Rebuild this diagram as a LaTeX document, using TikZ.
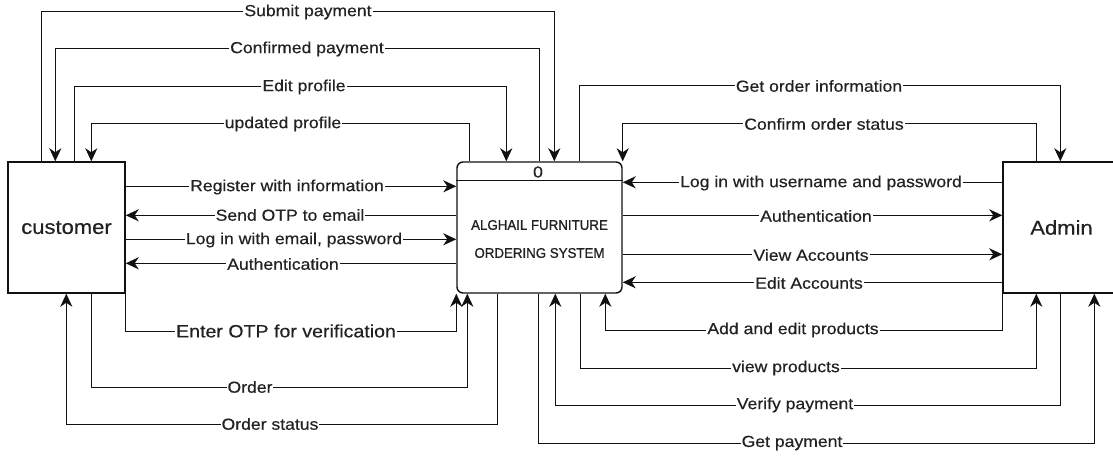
\documentclass[tikz,border=0pt]{standalone}
\usepackage{fontspec}
\setmainfont{Liberation Sans}[FakeStretch=1.1,FakeBold=0.4]
\newfontfamily\sysfont{Liberation Sans}[FakeStretch=0.95,FakeBold=1]
\usetikzlibrary{arrows.meta}
\definecolor{ink}{HTML}{111111}
\definecolor{txt}{HTML}{222222}
\tikzset{
  box/.style={draw=ink, fill=white, line width=1.4pt, minimum width=117pt, minimum height=131pt, inner sep=0pt, text=txt},
  flow/.style={draw=ink, line width=1.4pt, -{Stealth[length=13pt,width=12pt,inset=4pt]}},
  lbl/.style={fill=white, inner sep=1pt, text=txt, font={\fontsize{16}{19}\selectfont}},
  biglbl/.style={lbl, font={\fontsize{17.8}{21}\selectfont}},
}
\begin{document}
\begin{tikzpicture}[x=1pt,y=-1pt]
\useasboundingbox (0,0) rectangle (1113,457);
\clip (0,0) rectangle (1113,457);
\fill[white] (0,0) rectangle (1113,457);

% boxes
\node[box] (customer) at (66.5,227.5) {\fontsize{20}{24}\selectfont customer};
\node[box, rounded corners=6pt, minimum width=165pt] (sys) at (539.5,227.5) {};
\node[box] (admin) at (1061.5,227.5) {\fontsize{20}{24}\selectfont Admin};
\draw[ink, line width=1.4pt] ([yshift=-19pt]sys.north west) -- ([yshift=-19pt]sys.north east);
\node[text=txt, inner sep=0pt, font={\fontsize{16}{19}\selectfont}] (sysid) at (538,172) {0};
\node[text=txt, align=center, inner sep=0pt, font={\sysfont\fontsize{14}{28}\selectfont}] (sysname) at (539.5,239) {ALGHAIL FURNITURE\\ORDERING SYSTEM};

% customer <-> system, top
\draw[flow] ([xshift=34pt]customer.north west) -- ++(0,-150) -| ([xshift=98pt]sys.north west);
\draw[flow] ([xshift=83pt]sys.north west) -- ++(0,-113) -| ([xshift=48pt]customer.north west);
\draw[flow] ([xshift=67pt]customer.north west) -- ++(0,-75) -| ([xshift=50pt]sys.north west);
\draw[flow] ([xshift=13pt]sys.north west) -- ++(0,-38) -| ([xshift=84pt]customer.north west);

% customer <-> system, horizontal
\draw[flow] ([yshift=-25pt]customer.north east) -- ([yshift=-25pt]sys.north west);
\draw[flow] ([yshift=-54pt]sys.north west) -- ([yshift=-54pt]customer.north east);
\draw[flow] ([yshift=-78pt]customer.north east) -- ([yshift=-78pt]sys.north west);
\draw[flow] ([yshift=-102pt]sys.north west) -- ([yshift=-102pt]customer.north east);

% customer <-> system, bottom
\draw[flow] (customer.south east) -- ++(0,38) -| (sys.south west);
\draw[flow] ([xshift=84pt]customer.south west) -- ++(0,94) -| ([xshift=11pt]sys.south west);
\draw[flow] ([xshift=41pt]sys.south west) -- ++(0,131) -| ([xshift=59pt]customer.south west);

% system <-> admin, top
\draw[flow] ([xshift=123pt]sys.north west) -- ++(0,-76) -| ([xshift=58pt]admin.north west);
\draw[flow] ([xshift=34pt]admin.north west) -- ++(0,-38) -| (sys.north east);

% system <-> admin, horizontal
\draw[flow] ([yshift=-21pt]admin.north west) -- ([yshift=-21pt]sys.north east);
\draw[flow] ([yshift=-54pt]sys.north east) -- ([yshift=-54pt]admin.north west);
\draw[flow] ([yshift=-93pt]sys.north east) -- ([yshift=-93pt]admin.north west);
\draw[flow] ([yshift=-121pt]admin.north west) -- ([yshift=-121pt]sys.north east);

% system <-> admin, bottom
\draw[flow] (admin.south west) -- ++(0,37) -| ([xshift=149pt]sys.south west);
\draw[flow] ([xshift=124pt]sys.south west) -- ++(0,75) -| ([xshift=34pt]admin.south west);
\draw[flow] ([xshift=58pt]admin.south west) -- ++(0,112) -| ([xshift=99pt]sys.south west);
\draw[flow] ([xshift=82pt]sys.south west) -- ++(0,150) -| ([xshift=92pt]admin.south west);

% labels
\node[lbl] (l1) at (308,12) {Submit payment};
\node[lbl] (l2) at (307,49) {Confirmed payment};
\node[lbl] (l3) at (304,87) {Edit profile};
\node[lbl] (l4) at (283,124) {updated profile};
\node[lbl] (l5) at (287,187) {Register with information};
\node[lbl] (l6) at (290,215) {Send OTP to email};
\node[lbl] (l7) at (294,240) {Log in with email, password};
\node[lbl] (l8) at (283,264) {Authentication};
\node[biglbl] (l9) at (286,331) {Enter OTP for verification};
\node[lbl] (l10) at (250,387) {Order};
\node[lbl] (l11) at (270,424) {Order status};
\node[lbl] (l12) at (819,86) {Get order information};
\node[lbl] (l13) at (824,124) {Confirm order status};
\node[lbl] (l14) at (821,183) {Log in with username and password};
\node[lbl] (l15) at (816,216) {Authentication};
\node[lbl] (l16) at (811,255) {View Accounts};
\node[lbl] (l17) at (809,283) {Edit Accounts};
\node[lbl] (l18) at (793,330) {Add and edit products};
\node[lbl] (l19) at (786,368) {view products};
\node[lbl] (l20) at (795,405) {Verify payment};
\node[lbl] (l21) at (792,443) {Get payment};
\end{tikzpicture}
\end{document}
